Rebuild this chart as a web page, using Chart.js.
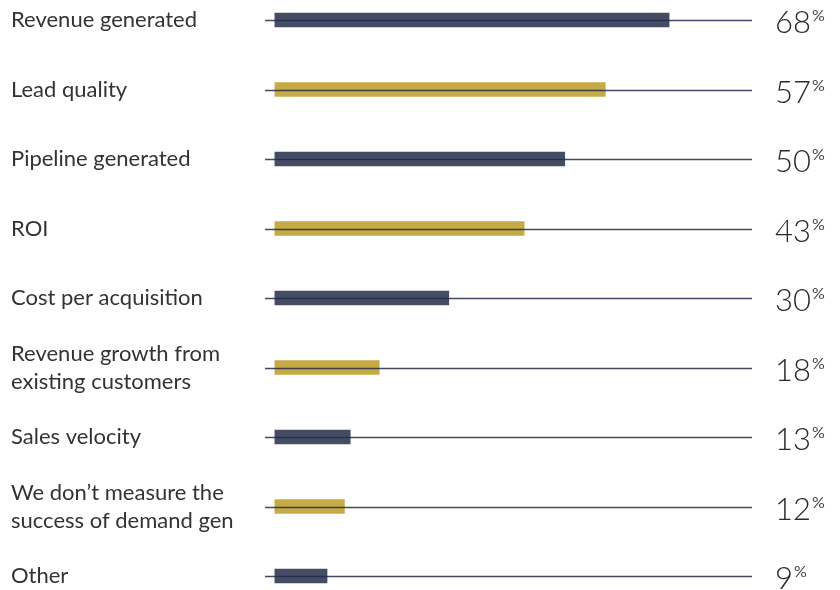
<!DOCTYPE html>
<html>
<head>
<meta charset="utf-8">
<script src="https://cdn.jsdelivr.net/npm/chart.js@4"></script>
<style>
  html, body { margin: 0; padding: 0; background: #fff; }
  #wrap { width: 840px; height: 590px; }
</style>
</head>
<body>
<div id="wrap"><canvas id="metrics"></canvas></div>
<script>
const categories = [
  "Revenue generated",
  "Lead quality",
  "Pipeline generated",
  "ROI",
  "Cost per acquisition",
  ["Revenue growth from", "existing customers"],
  "Sales velocity",
  ["We don\u2019t measure the", "success of demand gen"],
  "Other"
];
const shares = [68, 57, 50, 43, 30, 18, 13, 12, 9];

const navy = "#454d66";
const gold = "#c6aa45";
const barColors = shares.map((v, i) => (i % 2 === 0 ? navy : gold));

// thin rule across each row, drawn over the bars, plus the big % figures
const rowDecor = {
  id: "rowDecor",
  afterDatasetsDraw(chart) {
    const { ctx, chartArea, scales } = chart;
    ctx.save();
    shares.forEach((v, i) => {
      const y = Math.round(scales.y.getPixelForValue(i)) + 0.5;
      ctx.strokeStyle = "rgba(35,42,72,0.85)";
      ctx.lineWidth = 1.3;
      ctx.beginPath();
      ctx.moveTo(chartArea.left, y);
      ctx.lineTo(chartArea.right, y);
      ctx.stroke();

      const x = chartArea.right + 23;
      ctx.fillStyle = "#2a2a2a";
      ctx.textBaseline = "alphabetic";
      ctx.textAlign = "left";
      ctx.font = "300 31px Lato";
      const num = String(v);
      ctx.fillText(num, x, y + 12);
      const w = ctx.measureText(num).width;
      ctx.fillStyle = "#444";
      ctx.font = "16px Lato";
      ctx.fillText("%", x + w + 1, y);
    });
    ctx.restore();
  }
};

new Chart(document.getElementById("metrics"), {
  type: "bar",
  data: {
    labels: categories,
    datasets: [{
      data: shares,
      backgroundColor: barColors,
      barThickness: 14,
      borderWidth: 0,
      clip: false
    }]
  },
  options: {
    indexAxis: "y",
    responsive: true,
    maintainAspectRatio: false,
    animation: false,
    layout: { padding: { left: 11, right: 88, top: 20, bottom: 14 } },
    plugins: { legend: { display: false }, tooltip: { enabled: false } },
    scales: {
      x: {
        display: false,
        min: -1.7,
        max: 82.3
      },
      y: {
        offset: false,
        grid: { display: false, drawBorder: false },
        border: { display: false },
        afterFit(scale) { scale.width = 254; },
        ticks: {
          crossAlign: "far",
          color: "#333",
          padding: 0,
          font: { family: "Lato", size: 22, lineHeight: 1.27 }
        }
      }
    }
  },
  plugins: [rowDecor]
});
</script>
</body>
</html>
